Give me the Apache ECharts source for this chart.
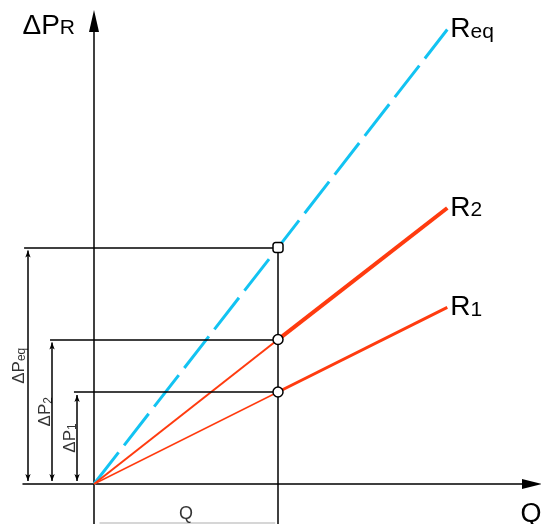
<!DOCTYPE html>
<html>
<head>
<meta charset="utf-8">
<script src="https://cdn.jsdelivr.net/npm/echarts@6.0.0/dist/echarts.min.js"></script>
<style>
    html, body { margin: 0; padding: 0; background: #fff; }
    #chart { width: 541px; height: 524px; }
</style>
</head>
<body>
<div id="chart"></div>
<script>
    // flow (x) and pressure drop (y), same arbitrary unit, Q = 1
    var flowQ = 1.0;
    var flowEnd = 1.92;
    var lineNames = ['R1', 'R2', 'Req'];
    var dropAtQ = [0.50, 0.785, 1.285];      // ΔP1, ΔP2, ΔPeq
    var dropAtEnd = [0.96, 1.50, 2.47];
    var dimNames = ['1', '2', 'eq'];

    // layout helpers in data units (left of y axis / below x axis)
    var dimLineX = [-0.092, -0.228, -0.359];
    var guideStartX = [-0.109, -0.239, -0.380];
    var dimTextX = [-0.128, -0.262, -0.405];
    var qDimY = -0.212;
    var axisBottom = -0.2174;

    var black = '#000';
    var red = '#ff3b0f';
    var cyan = '#12c3f2';
    var font = 'Liberation Sans, Arial, sans-serif';

    var chart = echarts.init(document.getElementById('chart'));

    function endLabel(sub) {
        return {
            show: true,
            distance: 3,
            formatter: '{a|R}{b|' + sub + '}',
            rich: {
                a: { fontSize: 28, fontFamily: font, color: black, verticalAlign: 'bottom' },
                b: { fontSize: 21, fontFamily: font, color: black, verticalAlign: 'bottom', padding: [0, 0, 1, 0] }
            }
        };
    }

    var series = [];

    // Req, dashed
    series.push({
        name: 'Req',
        type: 'line',
        data: [[0, 0], [flowQ, dropAtQ[2]], [flowEnd, dropAtEnd[2]]],
        symbol: 'none',
        clip: false,
        silent: true,
        lineStyle: { color: cyan, width: 3, type: [40, 9] },
        endLabel: endLabel('eq'),
        z: 3
    });

    // R1, R2: thin up to Q, thick beyond
    var thin = [1.5, 2];
    var thick = [3, 4];
    [0, 1].forEach(function (i) {
        series.push({
            name: lineNames[i] + ' to Q',
            type: 'line',
            data: [[0, 0], [flowQ, dropAtQ[i]]],
            symbol: 'none',
            clip: false,
            silent: true,
            lineStyle: { color: red, width: thin[i] },
            z: 4
        });
        series.push({
            name: lineNames[i],
            type: 'line',
            data: [[flowQ, dropAtQ[i]], [flowEnd, dropAtEnd[i]]],
            symbol: 'none',
            clip: false,
            silent: true,
            lineStyle: { color: red, width: thick[i] },
            endLabel: endLabel(String(i + 1)),
            z: 4
        });
    });

    // black projection lines and Q line
    var guides = dropAtQ.map(function (dp, i) {
        return [{ coord: [guideStartX[i], dp] }, { coord: [flowQ, dp] }];
    });
    guides.push([{ coord: [flowQ, dropAtQ[2]] }, { coord: [flowQ, axisBottom] }]);
    series.push({
        name: 'guides',
        type: 'line',
        data: [[0, 0]],
        symbol: 'none',
        silent: true,
        markLine: {
            silent: true,
            animation: false,
            symbol: ['none', 'none'],
            label: { show: false },
            lineStyle: { color: black, width: 1.5, type: 'solid' },
            emphasis: { disabled: true },
            data: guides
        },
        z: 2
    });

    // dimension lines with arrow heads
    series.push({
        name: 'dims',
        type: 'line',
        data: [[0, 0]],
        symbol: 'none',
        silent: true,
        markLine: {
            silent: true,
            animation: false,
            symbol: ['arrow', 'arrow'],
            symbolSize: [4, 7],
            label: { show: false },
            lineStyle: { color: black, width: 1.5, type: 'solid' },
            emphasis: { disabled: true },
            data: dropAtQ.map(function (dp, i) {
                return [{ coord: [dimLineX[i], 0.016] }, { coord: [dimLineX[i], dp - 0.016] }];
            })
        },
        z: 2
    });

    // dimension texts
    series.push({
        name: 'dimText',
        type: 'scatter',
        symbolSize: 1,
        itemStyle: { color: 'rgba(0,0,0,0)' },
        clip: false,
        silent: true,
        data: dropAtQ.map(function (dp, i) {
            return [dimTextX[i], dp / 2];
        }),
        label: {
            show: true,
            position: 'inside',
            rotate: 90,
            formatter: function (p) {
                return '{a|ΔP}{b|' + dimNames[p.dataIndex] + '}';
            },
            rich: {
                a: { fontSize: 17, fontFamily: font, color: black, verticalAlign: 'bottom' },
                b: { fontSize: 12, fontFamily: font, color: black, verticalAlign: 'bottom' }
            }
        },
        z: 5
    });

    // Q dimension at the bottom
    series.push({
        name: 'qDim',
        type: 'line',
        data: [[0.03, qDimY], [0.985, qDimY]],
        symbol: 'none',
        clip: false,
        silent: true,
        lineStyle: { color: '#c8c8c8', width: 1.5 },
        z: 1
    });
    series.push({
        name: 'qText',
        type: 'scatter',
        symbolSize: 1,
        itemStyle: { color: 'rgba(0,0,0,0)' },
        clip: false,
        silent: true,
        data: [[flowQ / 2, -0.163]],
        label: {
            show: true,
            position: 'inside',
            formatter: 'Q',
            fontSize: 18,
            fontFamily: font,
            color: black
        },
        z: 5
    });

    // points at Q
    series.push({
        name: 'points',
        type: 'scatter',
        clip: false,
        silent: true,
        symbolSize: 10,
        itemStyle: { color: '#fff', borderColor: black, borderWidth: 1.5, opacity: 1 },
        data: dropAtQ.map(function (dp, i) {
            return { value: [flowQ, dp], symbol: i === 2 ? 'roundRect' : 'circle' };
        }),
        z: 10
    });

    var option = {
        animation: false,
        backgroundColor: '#fff',
        grid: { left: 23, right: 9, top: 21, bottom: 0, containLabel: false, outerBoundsMode: 'none' },
        xAxis: {
            type: 'value',
            min: -0.3859,
            max: 2.3804,
            axisLine: {
                show: true,
                onZero: true,
                symbol: ['none', 'triangle'],
                symbolSize: [10, 20],
                lineStyle: { color: black, width: 1.5 }
            },
            axisTick: { show: false },
            axisLabel: { show: false },
            splitLine: { show: false },
            name: 'Q',
            nameLocation: 'end',
            nameGap: -1,
            nameTextStyle: {
                fontSize: 27,
                fontFamily: font,
                color: black,
                align: 'center',
                verticalAlign: 'top',
                padding: [17, 0, 0, 0]
            }
        },
        yAxis: {
            type: 'value',
            min: -0.2174,
            max: 2.5163,
            axisLine: {
                show: true,
                onZero: true,
                symbol: ['none', 'triangle'],
                symbolSize: [10, 22],
                lineStyle: { color: black, width: 1.5 }
            },
            axisTick: { show: false },
            axisLabel: { show: false },
            splitLine: { show: false },
            name: '{a|ΔP}{b|R}',
            nameLocation: 'end',
            nameGap: -5,
            nameTextStyle: {
                align: 'right',
                verticalAlign: 'middle',
                padding: [0, 19, 0, 0],
                rich: {
                    a: { fontSize: 28, fontFamily: font, color: black, verticalAlign: 'bottom' },
                    b: { fontSize: 21, fontFamily: font, color: black, verticalAlign: 'bottom', padding: [0, 0, 1, 0] }
                }
            }
        },
        series: series
    };

    option && chart.setOption(option);
</script>
</body>
</html>
